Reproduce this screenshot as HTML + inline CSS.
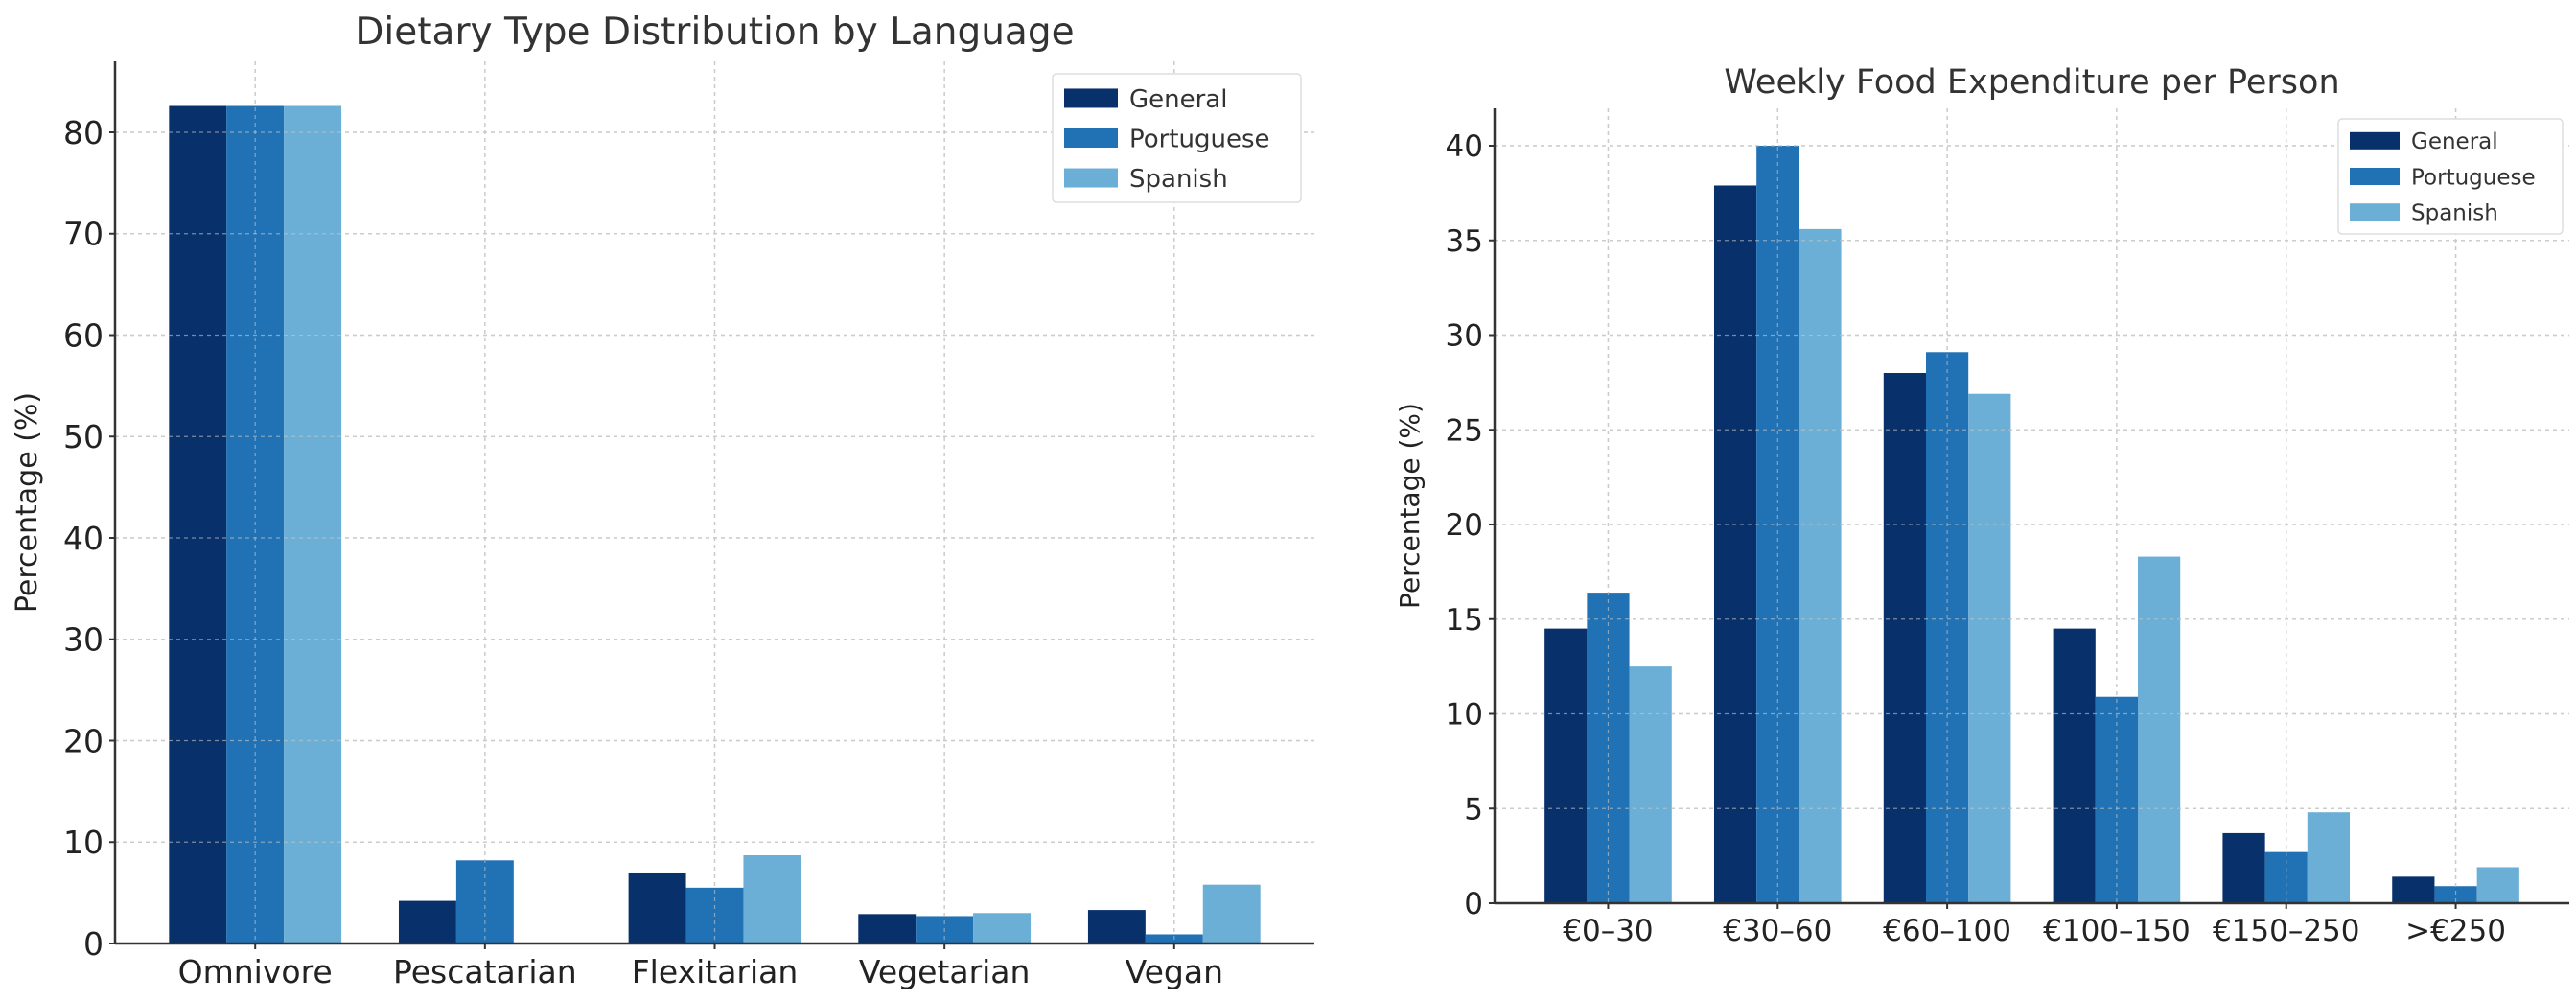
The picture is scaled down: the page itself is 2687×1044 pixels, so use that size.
<!DOCTYPE html>
<html><head><meta charset="utf-8"><style>
html,body{margin:0;padding:0;background:#fff;}
svg{display:block;font-family:"DejaVu Sans","Liberation Sans",sans-serif;}
</style></head><body>
<svg id="c" width="2687" height="1044"></svg>
<script>
const series = ["General","Portuguese","Spanish"];
const colors = ["#08306b","#2171b5","#6baed6"];
const dietCats = ["Omnivore","Pescatarian","Flexitarian","Vegetarian","Vegan"];
const dietGeneral = [82.6,4.2,7.0,2.9,3.3];
const dietPortuguese = [82.6,8.2,5.5,2.7,0.9];
const dietSpanish = [82.6,0,8.7,3.0,5.8];
const dietTicks = [0,10,20,30,40,50,60,70,80];
const expCats = ["€0–30","€30–60","€60–100","€100–150","€150–250",">€250"];
const expGeneral = [14.5,37.9,28.0,14.5,3.7,1.4];
const expPortuguese = [16.4,40.0,29.1,10.9,2.7,0.9];
const expSpanish = [12.5,35.6,26.9,18.3,4.8,1.9];
const expTicks = [0,5,10,15,20,25,30,35,40];

const svg=document.getElementById('c');
const NS='http://www.w3.org/2000/svg';
function mk(tag,attrs,parent){const e=document.createElementNS(NS,tag);for(const k in attrs)e.setAttribute(k,attrs[k]);(parent||svg).appendChild(e);return e;}

function chart(o){
  const g=mk('g',{});
  
  
  const n=o.cats.length;
  const sp=(o.x1-o.x0)/(n-1+2*o.pad);
  const xc=i=>o.x0+sp*(o.pad+i);
  const y=v=>o.y0-(v-0)*(o.y0-o.yRef)/o.vRef;
  o.ticks.forEach(t=>{const l=mk('line',{x1:o.x0,x2:o.xe,y1:y(t),y2:y(t),stroke:'#d0d0d0','stroke-width':1.5,'stroke-dasharray':'4,4'},g);
    });
  o.cats.forEach((c,i)=>{const l=mk('line',{x1:xc(i),x2:xc(i),y1:o.top,y2:o.y0,stroke:'#d0d0d0','stroke-width':1.5,'stroke-dasharray':'4,4'},g);
    });
  const bw=sp*0.25;
  o.vals.forEach((arr,s)=>{arr.forEach((v,i)=>{
    const x=xc(i)+(s-1)*bw-bw/2;
    const r=mk('rect',{x:x,y:y(v),width:bw,height:Math.max(0,o.y0-y(v)),fill:colors[s]},g);
    
    
  });});
  o.cats.forEach((c,i)=>{mk('line',{x1:xc(i),x2:xc(i),y1:o.top,y2:o.y0,stroke:'#c8c8c8','stroke-width':1.2,'stroke-dasharray':'4,4',opacity:0.6},g);});
  o.ticks.forEach(t=>{mk('line',{x1:o.x0,x2:o.xe,y1:y(t),y2:y(t),stroke:'#c8c8c8','stroke-width':1.2,'stroke-dasharray':'4,4',opacity:0.6},g);});
  const ax=mk('line',{x1:o.x0,x2:o.x0,y1:o.top,y2:o.y0,stroke:'#333','stroke-width':2.5},g);
  
  const bx=mk('line',{x1:o.x0,x2:o.xe,y1:o.y0,y2:o.y0,stroke:'#333','stroke-width':2.5},g);
  
  o.ticks.forEach(t=>{mk('line',{x1:o.x0-6,x2:o.x0,y1:y(t),y2:y(t),stroke:'#333','stroke-width':2},g);
    const tx=mk('text',{x:o.x0-12,y:y(t)+o.tfs*0.36,'text-anchor':'end','font-size':o.tfs,fill:'#222'},g);
    tx.textContent=t;});
  o.cats.forEach((c,i)=>{mk('line',{x1:xc(i),x2:xc(i),y1:o.y0,y2:o.y0+6,stroke:'#333','stroke-width':2},g);
    const tx=mk('text',{x:xc(i),y:o.y0+o.tfs+8,'text-anchor':'middle','font-size':o.tfs,fill:'#222'},g);
    tx.textContent=c;});
  const tt=mk('text',{x:(o.x0+o.xe)/2,y:o.titleY,'text-anchor':'middle','font-size':o.titleFs,fill:'#333'},g);
  tt.textContent=o.title;
  const yl=mk('text',{x:0,y:0,'text-anchor':'middle','font-size':o.ylFs,fill:'#222',transform:`translate(${o.ylX},${(o.top+o.y0)/2}) rotate(-90)`},g);
  yl.textContent='Percentage (%)';
  const L=o.leg;
  const lg=mk('g',{},g);
  mk('rect',{x:L.x,y:L.y,width:L.w,height:L.h,rx:4,fill:'#fff',stroke:'#ddd','stroke-width':1.5},lg);
  series.forEach((s,k)=>{
    const rowY=L.y+L.h*(0.19+k*0.31);
    mk('rect',{x:L.x+12,y:rowY-L.sh/2,width:L.sw,height:L.sh,fill:colors[k]},lg);
    const t=mk('text',{x:L.x+24+L.sw,y:rowY+L.fs*0.36,'font-size':L.fs,fill:'#333'},lg);
    t.textContent=s;
  });
}

chart({name:'dietary-chart',cats:dietCats,vals:[dietGeneral,dietPortuguese,dietSpanish],ticks:dietTicks,
  x0:120,xe:1371,x1:1371,pad:0.61,y0:984,yRef:138,vRef:80,top:64,tfs:33,title:'Dietary Type Distribution by Language',
  titleY:46,titleFs:39,ylX:38,ylFs:30,leg:{x:1098,y:77,w:259,h:134,sw:56,sh:20,fs:26}});
chart({name:'expenditure-chart',cats:expCats,vals:[expGeneral,expPortuguese,expSpanish],ticks:expTicks,
  x0:1559,xe:2680,x1:2680,pad:0.67,y0:942,yRef:152,vRef:40,top:113,tfs:31,title:'Weekly Food Expenditure per Person',
  titleY:97,titleFs:35,ylX:1480,ylFs:28,leg:{x:2439,y:124,w:234,h:120,sw:52,sh:18,fs:23}});
</script>
</body></html>
